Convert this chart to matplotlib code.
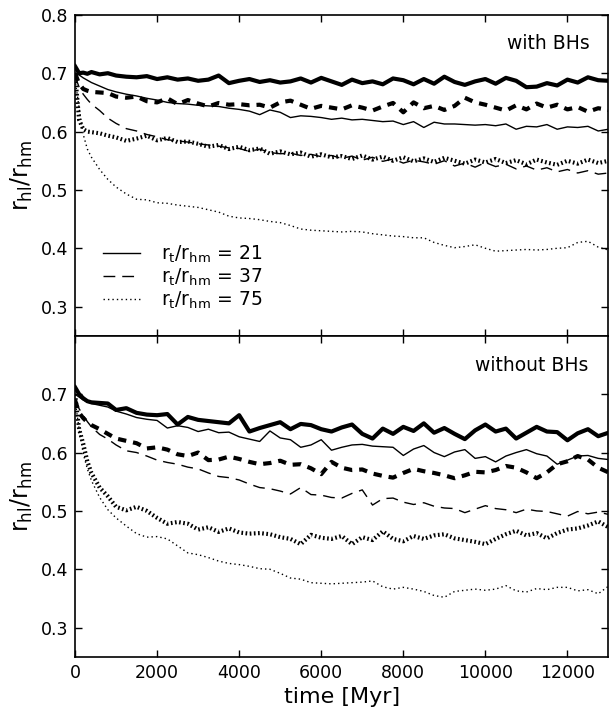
import numpy as np
import matplotlib
matplotlib.use('Agg')
import matplotlib.pyplot as plt

#time grid [Myr]: fine steps at start, then every 250 Myr
time = np.concatenate([[0, 100, 200, 300, 400, 600, 800], np.arange(1000, 13001, 250)])

#with BHs: rhl/rhm for rt/rhm = 21, 37, 75 (thick and thin runs)
wbh_21_thick = [0.712, 0.700, 0.701, 0.699, 0.702, 0.698, 0.700, 0.696,
                0.694, 0.693, 0.695, 0.690, 0.693, 0.689, 0.691, 0.687,
                0.689, 0.696, 0.683, 0.687, 0.690, 0.685, 0.688, 0.684,
                0.686, 0.691, 0.684, 0.692, 0.686, 0.680, 0.689, 0.683,
                0.686, 0.681, 0.691, 0.688, 0.681, 0.690, 0.682, 0.694,
                0.685, 0.680, 0.686, 0.690, 0.682, 0.692, 0.687, 0.676,
                0.677, 0.683, 0.679, 0.689, 0.684, 0.693, 0.688, 0.687]
wbh_21_thin = [0.700, 0.697, 0.692, 0.688, 0.684, 0.678, 0.672, 0.668,
               0.664, 0.661, 0.657, 0.654, 0.650, 0.648, 0.647, 0.645,
               0.644, 0.643, 0.640, 0.638, 0.635, 0.629, 0.637, 0.633,
               0.624, 0.627, 0.626, 0.624, 0.621, 0.623, 0.620, 0.621,
               0.619, 0.617, 0.618, 0.612, 0.617, 0.607, 0.616, 0.613,
               0.613, 0.612, 0.611, 0.612, 0.610, 0.613, 0.604, 0.609,
               0.608, 0.612, 0.604, 0.608, 0.607, 0.609, 0.601, 0.604]
wbh_37_thick = [0.700, 0.682, 0.673, 0.670, 0.668, 0.667, 0.666, 0.660,
                0.658, 0.660, 0.652, 0.650, 0.657, 0.647, 0.654, 0.648,
                0.643, 0.649, 0.646, 0.647, 0.645, 0.646, 0.641, 0.650,
                0.653, 0.646, 0.639, 0.644, 0.641, 0.638, 0.645, 0.641,
                0.636, 0.643, 0.649, 0.633, 0.650, 0.640, 0.644, 0.637,
                0.644, 0.658, 0.650, 0.646, 0.641, 0.636, 0.645, 0.638,
                0.648, 0.641, 0.646, 0.638, 0.642, 0.634, 0.640, 0.637]
wbh_37_thin = [0.695, 0.676, 0.664, 0.655, 0.647, 0.636, 0.623, 0.614,
               0.605, 0.601, 0.595, 0.591, 0.586, 0.584, 0.582, 0.579,
               0.577, 0.575, 0.572, 0.571, 0.566, 0.570, 0.564, 0.562,
               0.563, 0.559, 0.561, 0.557, 0.559, 0.554, 0.558, 0.551,
               0.556, 0.549, 0.553, 0.546, 0.551, 0.548, 0.544, 0.550,
               0.541, 0.546, 0.539, 0.547, 0.540, 0.544, 0.536, 0.541,
               0.534, 0.538, 0.531, 0.535, 0.529, 0.533, 0.527, 0.529]
wbh_75_thick = [0.700, 0.620, 0.604, 0.600, 0.599, 0.597, 0.593, 0.590,
                0.584, 0.588, 0.593, 0.585, 0.589, 0.582, 0.583, 0.579,
                0.574, 0.577, 0.570, 0.574, 0.568, 0.571, 0.562, 0.566,
                0.561, 0.564, 0.557, 0.561, 0.556, 0.558, 0.553, 0.559,
                0.552, 0.557, 0.550, 0.556, 0.549, 0.554, 0.548, 0.555,
                0.550, 0.545, 0.552, 0.547, 0.553, 0.546, 0.551, 0.544,
                0.552, 0.547, 0.543, 0.550, 0.545, 0.552, 0.546, 0.550]
wbh_75_thin = [0.690, 0.640, 0.595, 0.570, 0.556, 0.535, 0.518, 0.505,
               0.493, 0.484, 0.483, 0.478, 0.477, 0.474, 0.472, 0.470,
               0.466, 0.462, 0.455, 0.452, 0.451, 0.449, 0.446, 0.444,
               0.439, 0.433, 0.431, 0.430, 0.429, 0.428, 0.429, 0.428,
               0.425, 0.423, 0.421, 0.420, 0.418, 0.418, 0.410, 0.405,
               0.401, 0.403, 0.406, 0.400, 0.395, 0.396, 0.397, 0.398,
               0.397, 0.398, 0.400, 0.401, 0.410, 0.412, 0.402, 0.397]

#without BHs
nbh_21_thick = [0.712, 0.700, 0.693, 0.688, 0.686, 0.685, 0.684, 0.673,
                0.676, 0.668, 0.665, 0.664, 0.666, 0.648, 0.661, 0.656,
                0.654, 0.652, 0.650, 0.664, 0.636, 0.642, 0.647, 0.652,
                0.640, 0.649, 0.647, 0.640, 0.636, 0.643, 0.648, 0.632,
                0.624, 0.641, 0.632, 0.644, 0.637, 0.650, 0.634, 0.642,
                0.632, 0.623, 0.638, 0.648, 0.636, 0.641, 0.624, 0.634,
                0.644, 0.636, 0.635, 0.621, 0.633, 0.640, 0.628, 0.634]
nbh_21_thin = [0.700, 0.695, 0.690, 0.687, 0.684, 0.681, 0.678, 0.671,
               0.666, 0.660, 0.657, 0.655, 0.642, 0.646, 0.643, 0.636,
               0.640, 0.634, 0.635, 0.627, 0.623, 0.619, 0.637, 0.625,
               0.622, 0.609, 0.613, 0.622, 0.604, 0.609, 0.613, 0.614,
               0.611, 0.610, 0.609, 0.595, 0.606, 0.612, 0.600, 0.593,
               0.601, 0.605, 0.590, 0.593, 0.584, 0.594, 0.600, 0.605,
               0.598, 0.594, 0.580, 0.587, 0.594, 0.595, 0.590, 0.588]
nbh_37_thick = [0.690, 0.668, 0.659, 0.652, 0.647, 0.640, 0.632, 0.624,
                0.620, 0.616, 0.607, 0.609, 0.605, 0.597, 0.594, 0.600,
                0.587, 0.588, 0.593, 0.589, 0.584, 0.580, 0.582, 0.586,
                0.579, 0.580, 0.573, 0.563, 0.584, 0.574, 0.570, 0.571,
                0.564, 0.560, 0.557, 0.565, 0.572, 0.568, 0.565, 0.561,
                0.556, 0.561, 0.567, 0.566, 0.570, 0.577, 0.574, 0.566,
                0.556, 0.566, 0.580, 0.585, 0.594, 0.588, 0.574, 0.566]
nbh_37_thin = [0.690, 0.675, 0.664, 0.653, 0.644, 0.631, 0.623, 0.613,
               0.603, 0.600, 0.594, 0.587, 0.583, 0.580, 0.575, 0.572,
               0.565, 0.559, 0.557, 0.553, 0.546, 0.540, 0.538, 0.534,
               0.529, 0.540, 0.528, 0.527, 0.523, 0.522, 0.530, 0.536,
               0.510, 0.521, 0.522, 0.515, 0.511, 0.514, 0.508, 0.505,
               0.504, 0.497, 0.503, 0.509, 0.504, 0.502, 0.497, 0.503,
               0.500, 0.499, 0.495, 0.491, 0.499, 0.495, 0.498, 0.494]
nbh_75_thick = [0.700, 0.640, 0.615, 0.585, 0.565, 0.540, 0.525, 0.507,
                0.501, 0.507, 0.500, 0.488, 0.478, 0.481, 0.478, 0.468,
                0.472, 0.464, 0.470, 0.463, 0.461, 0.462, 0.460, 0.455,
                0.452, 0.443, 0.459, 0.454, 0.452, 0.457, 0.443, 0.455,
                0.450, 0.465, 0.452, 0.448, 0.457, 0.452, 0.458, 0.460,
                0.453, 0.450, 0.447, 0.443, 0.452, 0.460, 0.466, 0.458,
                0.462, 0.453, 0.462, 0.468, 0.470, 0.475, 0.482, 0.472]
nbh_75_thin = [0.690, 0.640, 0.598, 0.572, 0.552, 0.523, 0.502, 0.488,
               0.474, 0.461, 0.455, 0.456, 0.452, 0.440, 0.428, 0.425,
               0.420, 0.414, 0.410, 0.408, 0.405, 0.401, 0.400, 0.393,
               0.385, 0.383, 0.377, 0.376, 0.375, 0.376, 0.377, 0.378,
               0.380, 0.370, 0.366, 0.369, 0.366, 0.362, 0.355, 0.352,
               0.362, 0.364, 0.366, 0.364, 0.366, 0.372, 0.363, 0.361,
               0.367, 0.365, 0.369, 0.369, 0.363, 0.365, 0.358, 0.371]

rt_values = ['21', '37', '75']
panel_labels = ['with BHs', 'without BHs']

plt.rcParams['font.family'] = 'DejaVu Sans'
plt.rcParams['mathtext.fontset'] = 'dejavusans'
plt.rcParams['lines.scale_dashes'] = False

#dash patterns (points) for solid / dashed / dotted, thin and thick
thin_dash = [None, (8.5, 5), (1, 2.2)]
thick_dash = [None, (6, 5), (1.2, 1.8)]

fig, (ax1, ax2) = plt.subplots(2, 1, sharex=True, figsize=(6.1, 7.07), dpi=100)
fig.subplots_adjust(left=0.123, right=0.9975, top=0.979, bottom=0.071, hspace=0)

panels = [(ax1, [wbh_21_thick, wbh_37_thick, wbh_75_thick], [wbh_21_thin, wbh_37_thin, wbh_75_thin]),
          (ax2, [nbh_21_thick, nbh_37_thick, nbh_75_thick], [nbh_21_thin, nbh_37_thin, nbh_75_thin])]

for ax, thick, thin in panels:
    for i in range(3):
        l1, = ax.plot(time, thick[i], color='k', lw=3.0)
        l2, = ax.plot(time, thin[i], color='k', lw=1.0)
        if thick_dash[i] is not None:
            l1.set_dashes(thick_dash[i])
            l2.set_dashes(thin_dash[i])
    ax.set_xlim(0, 13000)
    ax.set_ylim(0.25, 0.8)
    ax.set_ylabel(r'$\mathrm{r_{hl}/r_{hm}}$', fontsize=17)
    ax.tick_params(direction='in', top=True, right=True, length=5, width=1, labelsize=12.5, pad=5)
    for s in ax.spines.values():
        s.set_linewidth(1.2)

ax1.set_yticks([0.3, 0.4, 0.5, 0.6, 0.7, 0.8])
ax2.set_yticks([0.3, 0.4, 0.5, 0.6, 0.7])
ax2.set_xticks([0, 2000, 4000, 6000, 8000, 10000, 12000])
ax2.set_xlabel('time [Myr]', fontsize=16)

ax1.text(0.965, 0.912, panel_labels[0], transform=ax1.transAxes, ha='right', va='center', fontsize=13.5)
ax2.text(0.962, 0.907, panel_labels[1], transform=ax2.transAxes, ha='right', va='center', fontsize=13.5)

#legend with thin lines only
handles = []
for i in range(3):
    h, = ax1.plot([], [], color='k', lw=1.0)
    if thin_dash[i] is not None:
        h.set_dashes(thin_dash[i])
    handles.append(h)
labels = [r'$\mathrm{r_t/r_{hm}}$ = ' + v for v in rt_values]
ax1.legend(handles, labels, loc='lower left', bbox_to_anchor=(0.02, 0.025), frameon=False,
           fontsize=13.5, handlelength=2.0, handletextpad=1.1, labelspacing=0.1)

fig.savefig('out.png', dpi=100)
